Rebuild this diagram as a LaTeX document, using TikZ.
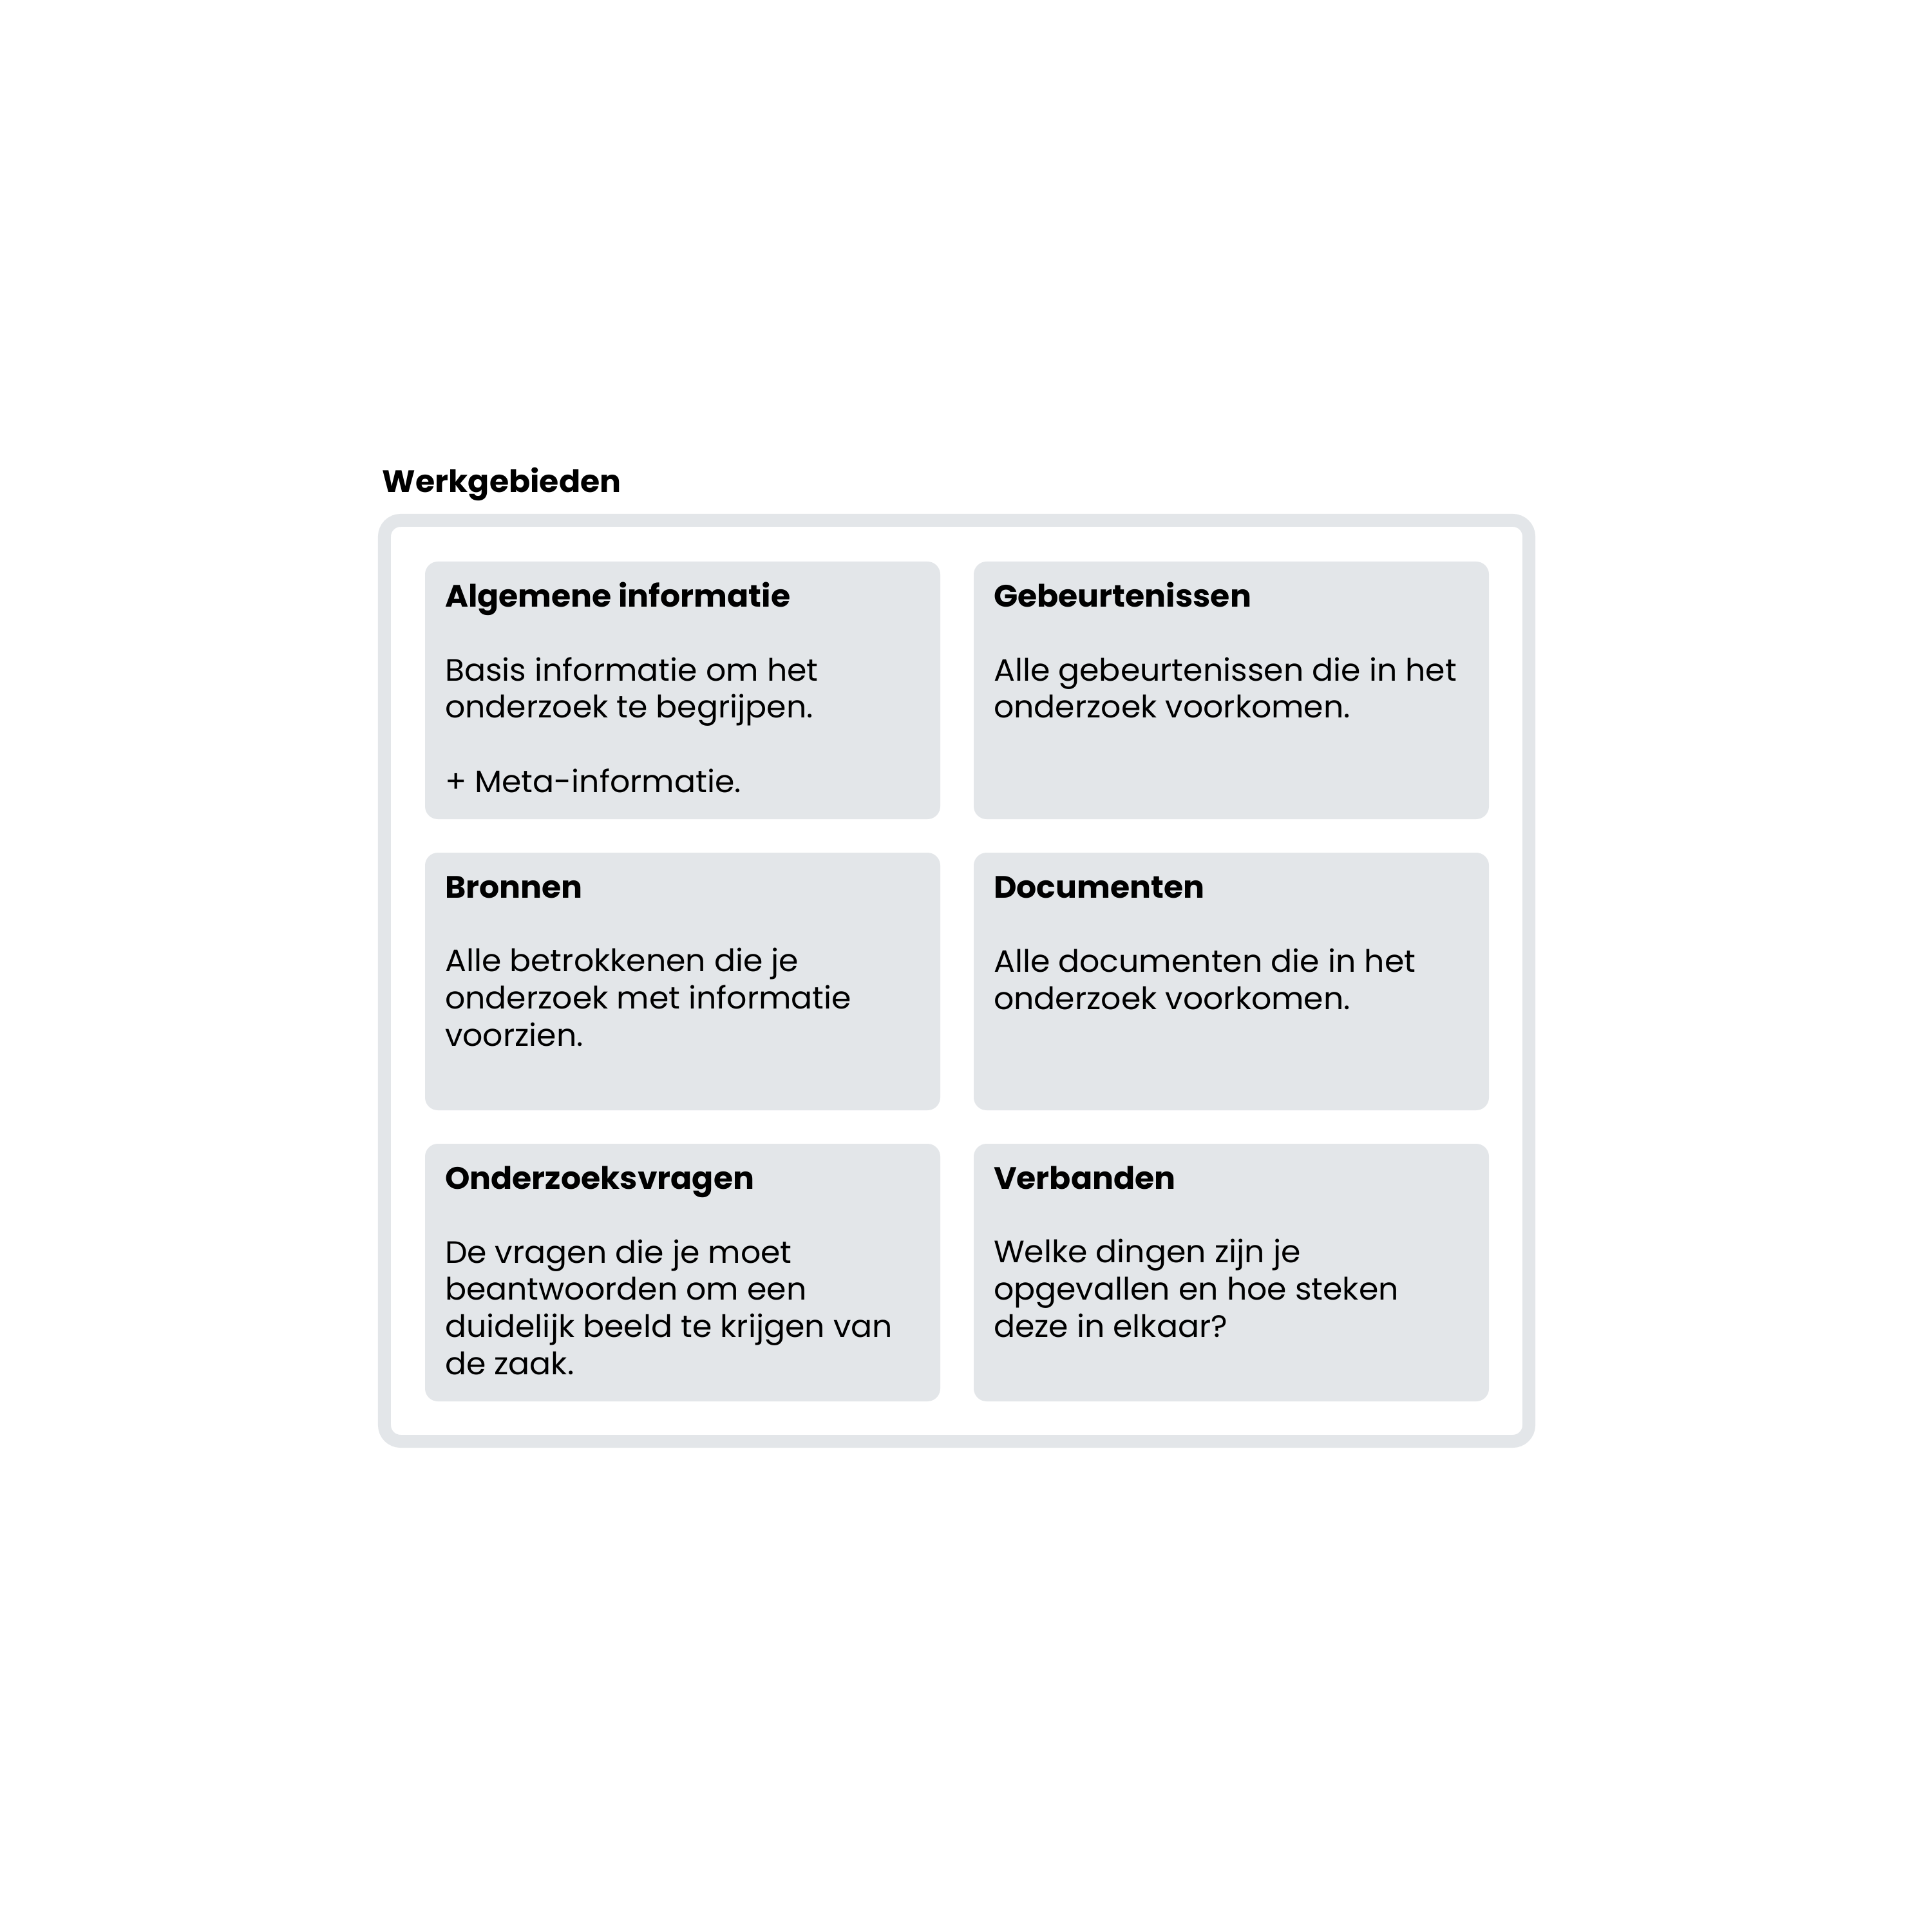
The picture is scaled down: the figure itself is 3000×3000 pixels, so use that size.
\documentclass[tikz,border=0pt]{standalone}
\usepackage{fontspec}
\setmainfont{Poppins}[FakeStretch=1.02]
\definecolor{panelgray}{HTML}{E3E6E9}
\definecolor{ink}{HTML}{000000}
\tikzset{
  frame/.style={draw=panelgray, line width=2bp, rounded corners=2.5bp, fill=white,
    minimum width=177.7bp, minimum height=143bp, inner sep=0pt, outer sep=0pt},
  card/.style={fill=panelgray, rounded corners=2bp, minimum width=80bp,
    minimum height=40bp, inner sep=0pt, outer sep=0pt},
  ttl/.style={anchor=base west, inner sep=0pt, text=ink,
    font=\fontsize{4.8bp}{5.76bp}\selectfont\bfseries},
  body/.style={anchor=base west, inner sep=0pt, text=ink, align=left,
    font=\fontsize{4.8bp}{5.76bp}\selectfont},
}
\begin{document}
\begin{tikzpicture}[x=0.1bp,y=-0.1bp]
\useasboundingbox (0,0) rectangle (3000,3000);
\fill[white] (0,0) rectangle (3000,3000);

\node[ttl] (head) at (592,765) {Werkgebieden};
\node[frame] (frame) at (1485.5,1523) {};

% cards
\node[card] (c1) at (1060,1072) {};
\node[card] (c2) at (1912,1072) {};
\node[card] (c3) at (1060,1524) {};
\node[card] (c4) at (1912,1524) {};
\node[card] (c5) at (1060,1976) {};
\node[card] (c6) at (1912,1976) {};

% texts row 1 (body nodes anchored at the baseline of their last line)
\node[ttl] (t1) at (689,942) {Algemene informatie};
\node[body] (b1) at (689,1230) {Basis informatie om het\\onderzoek te begrijpen.\\[5.76bp]+ Meta-informatie.};
\node[ttl] (t2) at (1541,942) {Gebeurtenissen};
\node[body] (b2) at (1541,1115) {Alle gebeurtenissen die in het\\onderzoek voorkomen.};

% row 2
\node[ttl] (t3) at (689,1394) {Bronnen};
\node[body] (b3) at (689,1624) {Alle betrokkenen die je\\onderzoek met informatie\\voorzien.};
\node[ttl] (t4) at (1541,1394) {Documenten};
\node[body] (b4) at (1541,1567) {Alle documenten die in het\\onderzoek voorkomen.};

% row 3
\node[ttl] (t5) at (689,1846) {Onderzoeksvragen};
\node[body] (b5) at (689,2134) {De vragen die je moet\\beantwoorden om een\\duidelijk beeld te krijgen van\\de zaak.};
\node[ttl] (t6) at (1541,1846) {Verbanden};
\node[body] (b6) at (1541,2076) {Welke dingen zijn je\\opgevallen en hoe steken\\deze in elkaar?};
\end{tikzpicture}
\end{document}
